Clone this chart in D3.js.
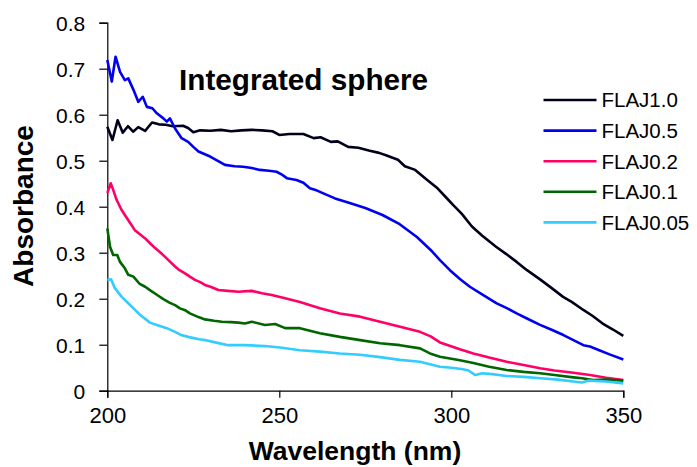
<!DOCTYPE html>
<html>
<head>
<meta charset="utf-8">
<script src="https://cdn.jsdelivr.net/npm/d3@7/dist/d3.min.js"></script>
<style>
  html, body { margin: 0; padding: 0; background: #fff; }
  svg { display: block; font-family: "Liberation Sans", Arial, sans-serif; }
</style>
</head>
<body>
<svg id="chart" width="697" height="467"></svg>
<script>
// Absorbance spectra, [wavelength nm, absorbance]
const flaj10 = [[200,0.574],[201.5,0.545],[203,0.588],[204.5,0.561],[206,0.575],[207.5,0.563],[209,0.573],[211,0.565],[213,0.583],[215,0.579],[217,0.578],[219,0.575],[222,0.576],[223.5,0.571],[225,0.562],[227,0.566],[230,0.565],[233,0.567],[236,0.564],[239,0.566],[242,0.567],[245,0.566],[248,0.564],[250,0.556],[253,0.558],[257,0.558],[260,0.549],[262,0.551],[265,0.541],[267,0.542],[270,0.530],[273,0.528],[276,0.522],[279,0.517],[281,0.512],[284.5,0.502],[286.5,0.488],[289.5,0.480],[293,0.458],[296,0.440],[298.5,0.420],[300.5,0.404],[303,0.385],[306,0.357],[309,0.337],[313,0.313],[316,0.297],[319,0.280],[322,0.262],[326,0.241],[329,0.224],[332.5,0.204],[335,0.193],[338.5,0.175],[341,0.163],[344,0.146],[347,0.133],[350,0.119]];
const flaj05 = [[200,0.719],[201.3,0.672],[202.4,0.726],[203.7,0.693],[205.1,0.675],[206.1,0.679],[207.6,0.654],[209,0.628],[210.3,0.639],[211.5,0.617],[213.1,0.614],[214.4,0.603],[216.3,0.592],[217.3,0.585],[218.2,0.592],[219.7,0.570],[221.6,0.549],[223.5,0.541],[225,0.530],[226.5,0.520],[229.9,0.509],[232,0.500],[234.2,0.491],[237,0.488],[239.5,0.487],[242,0.484],[244.4,0.480],[247,0.478],[249.2,0.476],[250.5,0.471],[252.2,0.462],[255,0.458],[257,0.452],[258.9,0.440],[261,0.435],[262.8,0.429],[266.2,0.418],[270,0.409],[275,0.397],[280,0.382],[285,0.362],[290,0.334],[294,0.306],[296.7,0.284],[299.6,0.262],[302.5,0.243],[305.4,0.226],[309.3,0.208],[313.2,0.190],[316,0.180],[319,0.168],[322,0.157],[325.8,0.143],[329,0.133],[332.6,0.121],[335.5,0.110],[338.4,0.099],[340.3,0.096],[343,0.088],[346,0.079],[350,0.068]];
const flaj02 = [[200,0.430],[200.3,0.436],[201,0.451],[201.8,0.435],[202.7,0.415],[204,0.395],[205.1,0.382],[206.6,0.365],[208,0.349],[209.5,0.340],[211,0.331],[212.5,0.320],[213.9,0.310],[215.5,0.300],[216.8,0.291],[218.3,0.280],[219.7,0.270],[221,0.262],[222.6,0.255],[224,0.248],[225.5,0.241],[227,0.236],[228.4,0.230],[230,0.226],[232.3,0.219],[235,0.217],[238.1,0.215],[242,0.217],[245,0.212],[247.8,0.208],[251.7,0.201],[256,0.193],[261.8,0.179],[267.6,0.168],[273.5,0.161],[279.3,0.150],[285.1,0.139],[290.9,0.128],[294,0.118],[296.7,0.105],[302.5,0.090],[306.4,0.081],[311,0.072],[316.1,0.063],[321,0.056],[325.8,0.049],[330,0.044],[335.5,0.039],[340.3,0.034],[345,0.028],[350,0.023]];
const flaj01 = [[200,0.353],[200.8,0.313],[201.7,0.295],[202.9,0.295],[203.7,0.280],[205.1,0.266],[206.1,0.252],[207.6,0.248],[209.3,0.233],[211,0.226],[212.7,0.217],[214.5,0.208],[216.3,0.199],[218.2,0.191],[219.7,0.186],[221.1,0.179],[222.6,0.175],[224,0.168],[226.5,0.160],[228.4,0.155],[231,0.152],[233.3,0.150],[236,0.149],[238.1,0.148],[240,0.146],[242,0.150],[245.8,0.143],[248.8,0.145],[251.7,0.136],[256,0.136],[261.8,0.125],[267.6,0.117],[273.5,0.110],[279.3,0.103],[285.1,0.099],[290.9,0.092],[293.8,0.081],[296.7,0.074],[299.6,0.070],[302.5,0.066],[306.4,0.060],[311,0.052],[316.1,0.045],[321,0.041],[325.8,0.038],[330,0.034],[335.5,0.029],[338,0.027],[341.3,0.023],[345,0.024],[350,0.022]];
const flaj005 = [[200,0.241],[201.1,0.242],[202.2,0.223],[204.2,0.204],[206.1,0.190],[207.6,0.179],[209.5,0.165],[212.4,0.148],[214.4,0.143],[217.3,0.136],[219.7,0.128],[221.5,0.121],[223.5,0.117],[226.7,0.112],[228.4,0.110],[232,0.104],[235.2,0.099],[240,0.099],[245.8,0.097],[250.2,0.094],[256,0.088],[261.8,0.085],[267.6,0.081],[273.5,0.078],[279.3,0.073],[285.1,0.067],[290.9,0.063],[296.7,0.052],[300,0.050],[303,0.047],[305,0.044],[307,0.034],[309,0.038],[312,0.036],[316,0.032],[321,0.030],[326,0.027],[331,0.024],[335.5,0.020],[338,0.018],[340,0.022],[345,0.020],[350,0.016]];

const seriesNames = ["FLAJ1.0", "FLAJ0.5", "FLAJ0.2", "FLAJ0.1", "FLAJ0.05"];
const seriesData = [flaj10, flaj05, flaj02, flaj01, flaj005];
const seriesColors = ["#00001c", "#0000f0", "#ff0066", "#006600", "#33ccff"];
const xTicks = [200, 250, 300, 350];
const yTicks = [0, 0.1, 0.2, 0.3, 0.4, 0.5, 0.6, 0.7, 0.8];

const svg = d3.select("#chart");
const plotLeft = 107.3, plotRight = 623.3, plotTop = 22.7, plotBottom = 390.7;

const x = d3.scaleLinear().domain([200, 350]).range([plotLeft, plotRight]);
const y = d3.scaleLinear().domain([0, 0.8]).range([plotBottom, plotTop]);

// axes
const xAxis = svg.append("g").attr("transform", `translate(0,${plotBottom})`)
  .call(d3.axisBottom(x).tickValues(xTicks).tickSize(7).tickPadding(10).tickFormat(d3.format("d")));
const yAxis = svg.append("g").attr("transform", `translate(${plotLeft},0)`)
  .call(d3.axisLeft(y).tickValues(yTicks).tickSize(8).tickPadding(14).tickFormat(d => d === 0 ? "0" : d3.format(".1f")(d)));

[xAxis, yAxis].forEach(g => {
  g.select(".domain").attr("stroke", "#000").attr("stroke-width", 1.2);
  g.selectAll(".tick line").attr("stroke", "#000").attr("stroke-width", 1.2);
  g.selectAll(".tick text").attr("fill", "#000").attr("font-family", "Liberation Sans, Arial, sans-serif");
});
xAxis.selectAll(".tick text").attr("font-size", 22);
yAxis.selectAll(".tick text").attr("font-size", 21).attr("dy", "0.36em");

// curves
const line = d3.line().x(d => x(d[0])).y(d => y(d[1]));
seriesData.forEach((s, i) => {
  svg.append("path").datum(s)
    .attr("fill", "none")
    .attr("stroke", seriesColors[i])
    .attr("stroke-width", 2.6)
    .attr("stroke-linejoin", "round")
    .attr("d", line);
});

// titles
svg.append("text").attr("x", 355).attr("y", 460).attr("text-anchor", "middle")
  .attr("font-weight", "bold").attr("font-size", 26.5).text("Wavelength (nm)");
svg.append("text").attr("transform", "translate(33,206) rotate(-90)").attr("text-anchor", "middle")
  .attr("font-weight", "bold").attr("font-size", 28).text("Absorbance");
svg.append("text").attr("x", 179).attr("y", 90)
  .attr("font-weight", "bold").attr("font-size", 29.7).text("Integrated sphere");

// legend
const legend = svg.append("g");
seriesNames.forEach((name, i) => {
  const ly = 100 + i * 30.6;
  legend.append("line").attr("x1", 543.5).attr("x2", 596.5).attr("y1", ly).attr("y2", ly)
    .attr("stroke", seriesColors[i]).attr("stroke-width", 2.6);
  legend.append("text").attr("x", 601.5).attr("y", ly).attr("dy", "0.36em")
    .attr("font-size", 20.5).attr("fill", "#000").text(name);
});
</script>
</body>
</html>
